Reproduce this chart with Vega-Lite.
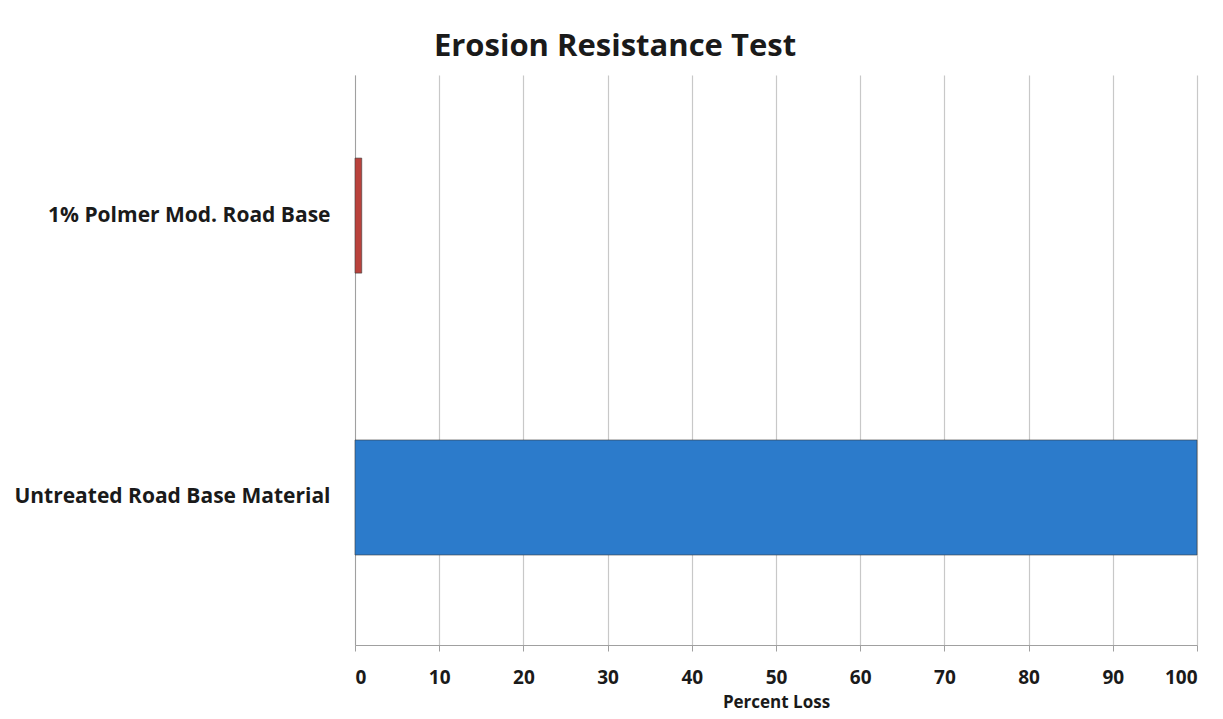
{
  "$schema": "https://vega.github.io/schema/vega-lite/v6.json",
  "width": 842,
  "height": 570,
  "autosize": {"type": "none"},
  "padding": {"left": 355, "top": 75, "right": 26, "bottom": 74},
  "background": "white",
  "title": {
    "text": "Erosion Resistance Test",
    "anchor": "middle",
    "frame": "group",
    "dx": -161,
    "offset": 12,
    "font": "Open Sans",
    "fontSize": 31,
    "fontWeight": "bold",
    "color": "#1a1a1a"
  },
  "data": {
    "values": [
      {"material": "1% Polmer Mod. Road Base", "loss": 0.8},
      {"material": "Untreated Road Base Material", "loss": 100}
    ]
  },
  "mark": {"type": "bar", "stroke": "#3a3a3a", "strokeWidth": 0.6},
  "encoding": {
    "y": {
      "field": "material",
      "type": "nominal",
      "sort": ["1% Polmer Mod. Road Base", "Untreated Road Base Material"],
      "scale": {"paddingInner": 0.592, "paddingOuter": 0.307, "align": 0.48},
      "axis": {
        "title": null,
        "labelFont": "Open Sans",
        "labelFontSize": 21,
        "labelFontWeight": "bold",
        "labelColor": "#1a1a1a",
        "labelPadding": 25,
        "ticks": false,
        "domainColor": "#a0a0a0",
        "grid": false,
        "labelLimit": 400
      }
    },
    "x": {
      "field": "loss",
      "type": "quantitative",
      "scale": {"domain": [0, 100], "nice": false},
      "axis": {
        "title": "Percent Loss",
        "titleFont": "Open Sans",
        "titleFontSize": 17,
        "titleFontWeight": "bold",
        "titleColor": "#1a1a1a",
        "titlePadding": 7,
        "values": [0, 10, 20, 30, 40, 50, 60, 70, 80, 90, 100],
        "labelFont": "Open Sans",
        "labelFontSize": 19,
        "labelFontWeight": "bold",
        "labelColor": "#1a1a1a",
        "labelPadding": 17,
        "tickSize": 6,
        "tickColor": "#a0a0a0",
        "domainColor": "#a0a0a0",
        "grid": true,
        "gridColor": "#c8c8c8",
        "gridWidth": 1.2
      }
    },
    "color": {
      "field": "material",
      "type": "nominal",
      "scale": {
        "domain": ["1% Polmer Mod. Road Base", "Untreated Road Base Material"],
        "range": ["#b9423c", "#2c7bcb"]
      },
      "legend": null
    }
  },
  "config": {"view": {"stroke": null}}
}
